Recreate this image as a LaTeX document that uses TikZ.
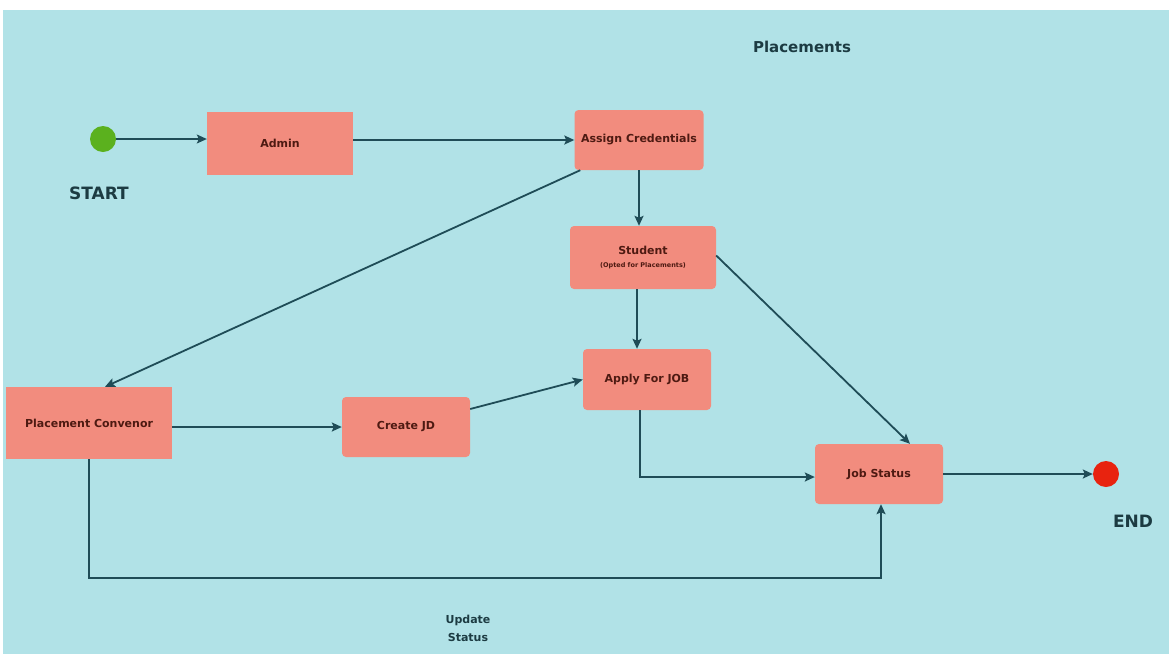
\documentclass[tikz,border=0pt]{standalone}
\usepackage{fontspec}
\setmainfont{DejaVu Sans}
\usetikzlibrary{arrows.meta}
\definecolor{bgc}{HTML}{B1E2E7}
\definecolor{boxc}{HTML}{F28C7E}
\definecolor{linec}{HTML}{1F4C57}
\definecolor{txtc}{HTML}{4E1A12}
\definecolor{lblc}{HTML}{1C3B42}
\definecolor{startc}{HTML}{5BB11E}
\definecolor{endc}{HTML}{E8230F}
\tikzset{
  box/.style={fill=boxc, draw=none, minimum width=#1, text=txtc, font=\fontsize{11}{12.5}\selectfont\bfseries, align=center, inner sep=2pt},
  rbox/.style={box=#1, rounded corners=4pt},
  dot/.style={circle, minimum size=26pt, inner sep=0pt, draw=none},
  lbl/.style={text=lblc, align=center},
  conn/.style={draw=linec, line width=1.8pt, -{Stealth[length=10pt,width=9pt,inset=2pt]}},
}
\begin{document}
\begin{tikzpicture}[x=1pt,y=-1pt]
\useasboundingbox (0,0) rectangle (1169,654);
\fill[white] (0,0) rectangle (1169,654);
\fill[bgc] (3,10) rectangle (1169,654);
% nodes
\node[dot, fill=startc] (start) at (103,139) {};
\node[dot, fill=endc] (end) at (1106,474) {};
\node[box=146pt, minimum height=63pt] (admin) at (280,143.5) {Admin};
\node[rbox=129pt, minimum height=60pt] (assign) at (639,140) {Assign Credentials};
\node[rbox=146pt, minimum height=63pt] (student) at (643,257.5) {Student\\[0pt]{\fontsize{6.5}{7}\selectfont (Opted for Placements)}};
\node[rbox=128pt, minimum height=61pt] (apply) at (647,379.5) {Apply For JOB};
\node[box=166pt, minimum height=72pt] (conv) at (89,423) {Placement Convenor};
\node[rbox=128pt, minimum height=60pt] (jd) at (406,427) {Create JD};
\node[rbox=128pt, minimum height=60pt] (job) at (879,474) {Job Status};
% labels
\node[lbl, font=\fontsize{15}{17}\selectfont\bfseries] (title) at (802,47) {Placements};
\node[lbl, font=\fontsize{17}{19}\selectfont\bfseries] (startlbl) at (99,193) {START};
\node[lbl, font=\fontsize{17}{19}\selectfont\bfseries] (endlbl) at (1133,521) {END};
\node[lbl, font=\fontsize{11}{18}\selectfont\bfseries] (upd) at (468,628) {Update\\Status};
\coordinate (cornerL) at (89,578);
% connectors
\draw[conn, line width=1.2pt] (start) -- (start -| admin.west);
\draw[conn] (admin.east |- assign) -- (assign.west);
\draw[conn] (assign.south) -- (assign.south |- student.north);
\draw[conn] ([xshift=6pt]assign.south west) -- ([xshift=16pt]conv.north);
\draw[conn] ([xshift=-6pt]student.south) -- ([xshift=-6pt]student.south |- apply.north);
\draw[conn] (conv.east |- jd.west) -- (jd.west);
\draw[conn] ([yshift=18pt]jd.east) -- (apply.west);
\draw[conn] ([xshift=-7pt]apply.south) |- ([yshift=-3pt]job.west);
\draw[conn] ([yshift=2pt]student.east) -- ([xshift=31pt]job.north);
\draw[conn] (job.east) -- (end.west);
\draw[conn] (conv.south) -- (cornerL) -| ([xshift=2pt]job.south);
\end{tikzpicture}
\end{document}
